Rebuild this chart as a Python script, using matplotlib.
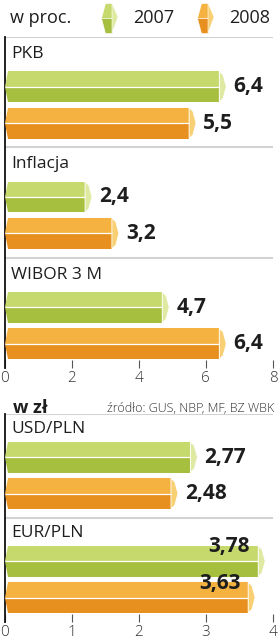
import matplotlib
matplotlib.use("Agg")
import matplotlib.pyplot as plt
from matplotlib.patches import Polygon
from matplotlib import transforms

# dane
groups_pct = ["PKB", "Inflacja", "WIBOR 3 M"]
pct_2007 = [6.4, 2.4, 4.7]
pct_2008 = [5.5, 3.2, 6.4]
groups_zl = ["USD/PLN", "EUR/PLN"]
zl_2007 = [2.77, 3.78]
zl_2008 = [2.48, 3.63]
years = ["2007", "2008"]
ticks_pct = [0, 2, 4, 6, 8]
ticks_zl = [0, 1, 2, 3, 4]

GREEN = ("#c6d96c", "#a6bf3f", "#dfe9a2")
ORANGE = ("#f5b241", "#e8901f", "#f8cf72")
TXT = "#1e1e1e"
W, H = 278, 640

plt.rcParams["font.family"] = ["Open Sans", "DejaVu Sans"]

fig = plt.figure(figsize=(W / 100, H / 100), dpi=100)


def fx(px):
    return px / W


def fy(py):
    return 1 - py / H


def draw_bar(ax, y, v, h, cols, xmax):
    light, dark, capc = cols
    nw = 0.014 * xmax
    cw = 0.026 * xmax
    top, bot = y - h / 2, y + h / 2
    ax.add_patch(Polygon([(nw, top), (v, top), (v, y), (0, y)], closed=True,
                         facecolor=light, edgecolor="none", zorder=3))
    ax.add_patch(Polygon([(0, y), (v, y), (v, bot), (nw, bot)], closed=True,
                         facecolor=dark, edgecolor="none", zorder=3))
    ax.add_patch(Polygon([(v, top), (v + cw * 0.55, top + 0.12 * h), (v + cw, y),
                          (v + cw * 0.55, bot - 0.12 * h), (v, bot)], closed=True,
                         facecolor=capc, edgecolor="white", linewidth=0.6, zorder=4))
    ax.plot([0, v], [y, y], color="white", lw=0.9, zorder=4, solid_capstyle="butt")
    return cw


def panel(ax, groups, s1, s2, xmax, ticks, fmt, pos1, pos2, lab_y, bh):
    n = len(groups)
    ax.set_xlim(0, xmax)
    ax.set_ylim(n, 0)
    for sp in ["top", "right", "bottom"]:
        ax.spines[sp].set_visible(False)
    ax.spines["left"].set_color("#111111")
    ax.spines["left"].set_linewidth(1.3)
    ax.set_yticks([])
    ax.set_xticks(ticks)
    ax.set_xticklabels([str(t) for t in ticks])
    ax.tick_params(axis="x", direction="in", length=6, width=0.8, color="#555555",
                   labelsize=11, labelcolor="#333333", pad=2)
    for lab in ax.get_xticklabels():
        lab.set_fontweight("light")
    for i in range(n):
        ax.axhline(i, color="#d2d2d2", lw=1.5, zorder=1)
    blend = transforms.blended_transform_factory(ax.transAxes, ax.transData)
    px = xmax / 268.0
    for i, g in enumerate(groups):
        ax.text(0.026, i + lab_y, g, transform=blend, fontsize=12.5, color=TXT,
                va="center", ha="left")
        for val, p, cols in ((s1[i], pos1, GREEN), (s2[i], pos2, ORANGE)):
            y = i + p
            cw = draw_bar(ax, y, val, bh, cols, xmax)
            s = fmt.format(val).replace(".", ",")
            if val > 0.85 * xmax:
                ax.text(val - 8 * px, y - bh / 2 + 0.01, s, fontsize=15,
                        fontweight="bold", color=TXT, ha="right", va="center",
                        zorder=5)
            else:
                ax.text(val + cw + 7 * px, y, s, fontsize=15, fontweight="bold",
                        color=TXT, ha="left", va="center", zorder=5)


ax1 = fig.add_axes([fx(4.5), fy(368), fx(273) - fx(4.5), (368 - 37) / H])
panel(ax1, groups_pct, pct_2007, pct_2008, 8, ticks_pct, "{:.1f}",
      0.45, 0.78, 0.155, 0.28)

ax2 = fig.add_axes([fx(4.5), fy(622), fx(273) - fx(4.5), (622 - 414) / H])
panel(ax2, groups_zl, zl_2007, zl_2008, 4, ticks_zl, "{:.2f}",
      0.415, 0.765, 0.14, 0.295)


# legenda
def icon(x0, cols):
    light, dark, capc = cols
    def pt(a, b):
        return (fx(x0 + a), fy(b))
    faces = [
        ([pt(4, 3), pt(11, 3), pt(11, 18), pt(0, 18)], light),
        ([pt(0, 18), pt(11, 18), pt(11, 33), pt(4, 33)], dark),
        ([pt(11, 3), pt(17, 17), pt(11, 33)], capc),
    ]
    for pts, c in faces:
        fig.add_artist(Polygon(pts, closed=True, facecolor=c, edgecolor="white",
                               linewidth=0.4, transform=fig.transFigure))


fig.text(fx(10), fy(18), "w proc.", fontsize=13, color=TXT, va="center", ha="left")
icon(101, GREEN)
fig.text(fx(133), fy(18), years[0], fontsize=13, color=TXT, va="center", ha="left")
icon(197, ORANGE)
fig.text(fx(229), fy(18), years[1], fontsize=13, color=TXT, va="center", ha="left")

fig.text(fx(13), fy(408), "w zł", fontsize=13, fontweight="bold", color=TXT,
         va="center", ha="left")
fig.text(fx(274), fy(408), "źródło: GUS, NBP, MF, BZ WBK", fontsize=9,
         fontweight="light", color="#333333", va="center", ha="right")

fig.savefig("out.png", dpi=100)
